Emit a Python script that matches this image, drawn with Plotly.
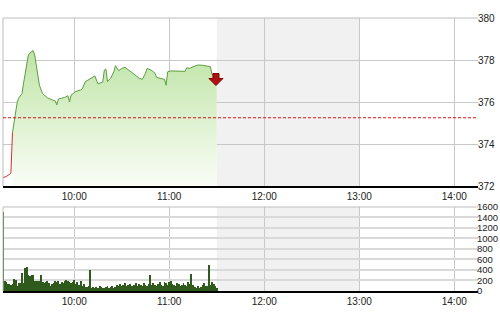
import plotly.graph_objects as go
import pandas as pd

DAY = "2024-01-01 "

# Price series (time, index value)
red_times = ["09:15", "09:17", "09:19", "09:20", "09:21"]
red_values = [372.40, 372.45, 372.55, 372.62, 374.55]

green_times = ["09:21", "09:23", "09:24", "09:25", "09:27", "09:28", "09:29", "09:30", "09:31",
               "09:33", "09:34", "09:35", "09:36", "09:37", "09:38", "09:40", "09:43", "09:46",
               "09:48", "09:49", "09:50", "09:52", "09:54", "09:56", "09:57", "09:58", "10:01",
               "10:04", "10:05", "10:07", "10:09", "10:11", "10:13", "10:15", "10:16", "10:18",
               "10:19", "10:20", "10:21", "10:23", "10:25", "10:26", "10:28", "10:30", "10:32",
               "10:34", "10:37", "10:41", "10:43", "10:45", "10:46", "10:49", "10:51", "10:52",
               "10:54", "10:57", "10:58", "10:59", "11:01", "11:05", "11:10", "11:11", "11:13",
               "11:15", "11:18", "11:21", "11:23", "11:26", "11:27", "11:30"]
green_values = [374.55, 375.60, 376.00, 376.20, 376.40, 376.90, 377.40, 377.76, 378.24,
                378.40, 378.45, 378.24, 377.80, 377.20, 376.80, 376.40, 376.20, 376.10,
                376.05, 375.86, 376.14, 376.18, 376.22, 376.30, 376.00, 376.33, 376.50,
                376.57, 376.62, 376.97, 377.05, 377.13, 377.24, 376.86, 376.90, 376.95,
                377.52, 377.57, 376.97, 377.13, 377.44, 377.73, 377.49, 377.60, 377.65,
                377.55, 377.37, 377.13, 377.08, 377.37, 377.60, 377.50, 377.37, 377.17,
                377.13, 377.08, 376.80, 377.44, 377.48, 377.46, 377.46, 377.63, 377.60,
                377.68, 377.76, 377.75, 377.71, 377.68, 377.30, 377.30]

reference_value = 375.25

# Volume per minute from 09:15
volume_start = "09:15"
volumes = [1500,
           190, 165, 130, 130, 110, 125, 230, 205, 100, 160,
           150, 340, 150, 435, 460, 305, 295, 300, 310, 200,
           190, 190, 200, 300, 170, 150, 170, 190, 150, 100,
           130, 150, 185, 170, 200, 130, 180, 150, 200, 215,
           185, 170, 160, 170, 210, 140, 170, 120, 200, 100,
           130, 80, 80, 90, 400, 60, 70, 50, 80, 60,
           90, 70, 60, 50, 80, 100, 60, 70, 90, 60,
           80, 110, 90, 130, 100, 120, 150, 90, 110, 140,
           100, 90, 120, 160, 100, 130, 110, 90, 150, 120,
           100, 140, 300, 110, 150, 120, 90, 130, 170, 110,
           90, 180, 150, 120, 170, 190, 140, 120, 100, 160,
           130, 90, 110, 150, 120, 100, 170, 140, 320, 110,
           70, 60, 90, 60, 80, 120, 150, 90, 100, 500,
           120, 180, 130, 90, 60]

x_ticks = ["10:00", "11:00", "12:00", "13:00", "14:00"]
price_ticks = [372, 374, 376, 378, 380]
volume_ticks = [0, 200, 400, 600, 800, 1000, 1200, 1400, 1600]
break_start, break_end = "11:30", "13:00"
arrow_time, arrow_value = "11:29:30", 377.07

vol_times = pd.date_range(DAY + volume_start, periods=len(volumes), freq="1min")

fig = go.Figure()

fig.add_trace(go.Scatter(
    x=[DAY + t for t in green_times], y=green_values, mode="lines",
    line=dict(color="#5c9e40", width=1),
    fill="tozeroy",
    fillgradient=dict(type="vertical", start=372, stop=378.5,
                      colorscale=[[0, "rgba(250,253,247,1)"], [1, "rgba(190,228,165,1)"]]),
    xaxis="x", yaxis="y", hoverinfo="skip"))
fig.add_trace(go.Scatter(
    x=[DAY + t for t in red_times], y=red_values, mode="lines",
    line=dict(color="#d03030", width=1), xaxis="x", yaxis="y", hoverinfo="skip"))

fig.add_trace(go.Bar(
    x=vol_times, y=volumes, marker=dict(color="#2e5a1c", line=dict(width=0)),
    width=38000, xaxis="x2", yaxis="y2", hoverinfo="skip"))

font = dict(family="Liberation Sans, Arial, sans-serif", size=10, color="#222")
vfont = dict(family="Liberation Sans, Arial, sans-serif", size=9.5, color="#222")
xcommon = dict(type="date", range=[DAY + "09:15", DAY + "14:15"],
               tickvals=[DAY + t for t in x_ticks], ticktext=x_ticks,
               showgrid=True, gridcolor="#c8c8c8", gridwidth=1,
               showline=True, linecolor="#000", linewidth=2,
               ticks="", tickfont=font, zeroline=False, fixedrange=True,
               automargin=False)

fig.update_layout(
    width=500, height=312,
    margin=dict(l=3, r=22, t=18, b=21),
    paper_bgcolor="white", plot_bgcolor="white",
    showlegend=False, bargap=0,
    xaxis=dict(domain=[0, 1], anchor="y", **xcommon),
    yaxis=dict(domain=[0.3846, 1], range=[372, 380], side="right",
               tickvals=price_ticks, ticktext=[str(v) for v in price_ticks],
               showgrid=True, gridcolor="#c8c8c8", gridwidth=1,
               ticks="", ticklabelstandoff=-1,
               tickfont=font, zeroline=False, fixedrange=True, automargin=False),
    xaxis2=dict(domain=[0, 1], anchor="y2", **xcommon),
    yaxis2=dict(domain=[0, 0.3077], range=[0, 1600], side="right",
                tickvals=volume_ticks, ticktext=[str(v) for v in volume_ticks],
                showgrid=True, gridcolor="#d9d9d9", gridwidth=2,
                ticks="", ticklabelstandoff=-2,
                tickfont=vfont, zeroline=False, fixedrange=True, automargin=False),
)

shapes = []
for xr, yr in (("x", "y"), ("x2", "y2")):
    shapes.append(dict(type="rect", xref=xr, yref=yr + " domain",
                       x0=DAY + break_start, x1=DAY + break_end, y0=0, y1=1,
                       fillcolor="#f1f1f1", line=dict(width=0), layer="below"))
    shapes.append(dict(type="line", xref=xr + " domain", yref=yr + " domain",
                       x0=0, x1=1, y0=1, y1=1, line=dict(color="#bdbdbd", width=1)))
    shapes.append(dict(type="line", xref=xr + " domain", yref=yr + " domain",
                       x0=0, x1=0, y0=0, y1=1, line=dict(color="#bdbdbd", width=1)))
shapes.append(dict(type="line", xref="x domain", yref="y", x0=0, x1=1,
                   y0=reference_value, y1=reference_value,
                   line=dict(color="#e01010", width=1, dash="3px,2px")))
shapes.append(dict(type="path", xref="x", yref="y", xsizemode="pixel", ysizemode="pixel",
                   xanchor=DAY + arrow_time, yanchor=arrow_value,
                   path="M-3,6 L3,6 L3,1 L7,1 L0,-6 L-7,1 L-3,1 Z",
                   fillcolor="#b01010", line=dict(color="#7a0000", width=1)))
fig.update_layout(shapes=shapes)

fig.write_html("out.html", config={"displayModeBar": False})
